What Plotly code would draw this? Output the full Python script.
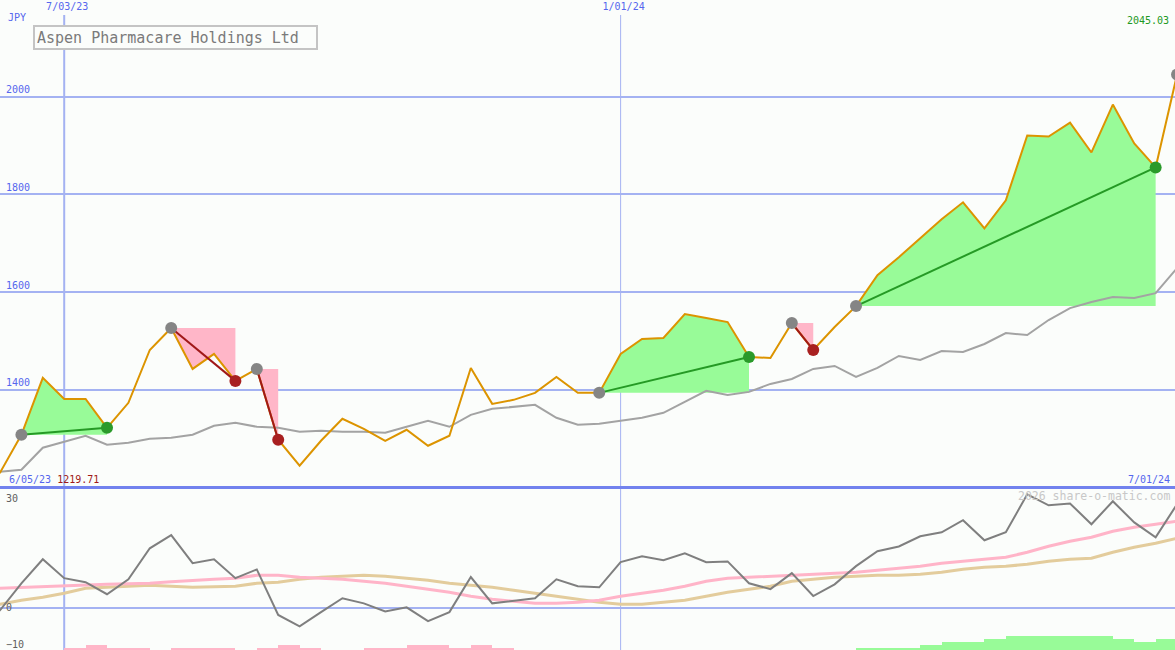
import plotly.graph_objects as go
from datetime import datetime

# ---------------- data ----------------
dates = ["2023-06-05", "2023-06-12", "2023-06-19", "2023-06-26", "2023-07-03", "2023-07-10",
         "2023-07-17", "2023-07-24", "2023-07-31", "2023-08-07", "2023-08-14", "2023-08-21",
         "2023-08-28", "2023-09-04", "2023-09-11", "2023-09-18", "2023-09-25", "2023-10-02",
         "2023-10-09", "2023-10-16", "2023-10-23", "2023-10-30", "2023-11-06", "2023-11-13",
         "2023-11-20", "2023-11-27", "2023-12-04", "2023-12-11", "2023-12-18", "2023-12-25",
         "2024-01-01", "2024-01-08", "2024-01-15", "2024-01-22", "2024-01-29", "2024-02-05",
         "2024-02-12", "2024-02-19", "2024-02-26", "2024-03-04", "2024-03-11", "2024-03-18",
         "2024-03-25", "2024-04-01", "2024-04-08", "2024-04-15", "2024-04-22", "2024-04-29",
         "2024-05-06", "2024-05-13", "2024-05-20", "2024-05-27", "2024-06-03", "2024-06-10",
         "2024-06-17", "2024-06-24", "2024-07-01"]

prices = [1219.71, 1230.6, 1308.2, 1424.5, 1381.6, 1381.6, 1322.4, 1373.5, 1481.6, 1526.5,
          1442.9, 1473.5, 1418.4, 1442.9, 1298.0, 1244.9, 1295.9, 1340.8, 1320.4, 1295.9,
          1318.4, 1285.7, 1306.1, 1444.9, 1371.4, 1379.6, 1393.9, 1426.5, 1393.9, 1393.9,
          1473.5, 1504.1, 1506.1, 1555.1, 1546.9, 1538.8, 1467.3, 1465.3, 1536.7, 1481.6,
          1528.6, 1571.4, 1634.7, 1671.4, 1710.2, 1749.0, 1783.7, 1730.6, 1787.8, 1920.4,
          1918.4, 1946.9, 1885.7, 1983.7, 1904.1, 1855.1, 2045.03]

moving_avg = [1228.0, 1232.7, 1236.7, 1281.6, 1293.9, 1306.1, 1287.8, 1291.8, 1300.0, 1302.0,
              1308.2, 1326.5, 1332.7, 1324.5, 1322.4, 1314.3, 1316.3, 1314.3, 1314.3, 1312.2,
              1324.5, 1336.7, 1324.5, 1349.0, 1361.2, 1365.3, 1369.4, 1342.9, 1328.6, 1330.6,
              1336.7, 1342.9, 1353.1, 1375.5, 1398.0, 1389.8, 1395.9, 1412.2, 1422.4, 1442.9,
              1449.0, 1426.5, 1444.9, 1469.4, 1461.2, 1479.6, 1477.6, 1493.9, 1516.3, 1512.2,
              1542.9, 1567.3, 1579.6, 1589.8, 1587.8, 1598.0, 1649.0]

momentum = [-4.0, -0.7, 6.7, 13.3, 8.1, 7.0, 3.7, 7.8, 16.3, 19.9, 12.2, 13.3, 8.1, 10.5,
            -2.0, -5.1, -1.2, 2.6, 1.2, -1.0, 0.1, -3.7, -1.2, 8.4, 1.2, 1.8, 2.6, 7.8, 5.9,
            5.6, 12.5, 14.1, 13.0, 14.9, 12.5, 12.7, 6.7, 5.1, 9.5, 3.2, 6.4, 11.4, 15.5, 16.8,
            19.6, 20.7, 24.0, 18.5, 20.7, 31.1, 28.1, 28.6, 22.9, 29.2, 23.4, 19.3, 28.4]

momentum_fast = [5.1, 5.34, 5.62, 5.89, 6.16, 6.30, 6.44, 6.58, 6.71, 7.12, 7.53, 7.81, 8.08,
                 8.90, 8.90, 8.36, 8.08, 7.81, 7.26, 6.71, 5.89, 5.07, 4.25, 3.15, 2.33, 1.78,
                 1.23, 1.23, 1.51, 2.05, 3.15, 3.97, 4.79, 5.89, 7.26, 8.08, 8.36, 8.63, 8.90,
                 9.18, 9.45, 9.73, 10.27, 10.82, 11.37, 12.19, 12.74, 13.29, 13.84, 15.21,
                 16.85, 18.22, 19.32, 20.96, 22.05, 22.88, 23.70]

momentum_slow = [0.5, 0.96, 2.05, 2.88, 3.97, 5.34, 5.62, 5.89, 6.16, 5.89, 5.62, 5.75, 5.89,
                 6.71, 6.99, 7.81, 8.36, 8.63, 8.90, 8.63, 8.08, 7.53, 6.71, 6.16, 5.62, 4.79,
                 3.97, 3.15, 2.33, 1.51, 0.96, 0.96, 1.51, 2.05, 3.15, 4.25, 5.07, 5.89, 7.26,
                 7.81, 8.36, 8.63, 8.90, 8.90, 9.18, 9.73, 10.55, 11.10, 11.37, 11.92, 12.74,
                 13.29, 13.56, 15.21, 16.58, 17.67, 19.04]

signal_level = [0, 0, 0, 0, -1, -2, -1, -1, 0, -1, -1, -1, 0, -1, -2, -1, 0, 0, -1, -1,
                -2, -2, -1, -2, -1, 0, 0, 0, 0, 0, 0, 0, 0, 0, 0, 0, 0, 0, 0, 0,
                0, 1, 1, 1, 2, 3, 3, 4, 5, 5, 5, 5, 5, 4, 3, 4, 0]

trade_entries = [2, 9, 13, 29, 38, 41]
trade_exits = [6, 12, 14, 36, 39, 55]
open_entries = [56]

grid_dates = ["2023-07-03", "2024-01-01"]
price_ticks = [1400, 1600, 1800, 2000]
momentum_ticks = [-10, 0, 30]
title_text = "Aspen Pharmacare Holdings Ltd"
currency = "JPY"
watermark = "2026 share-o-matic.com"

# ---------------- styles ----------------
BG = "#fbfdfb"
BLUE_TXT = "#5566ee"
GRID = "#a4b2f2"
SEP = "#7282ee"
FONT = "DejaVu Sans Mono"
GAIN_FILL = "#98fb98"
LOSS_FILL = "#ffb6c8"
GAIN_LINE = "#259a25"
LOSS_LINE = "#a01818"
GAIN_DOT = "#2a9a2a"
LOSS_DOT = "#a82020"
ENTRY_DOT = "#858585"


def lab(s):
    d = datetime.strptime(s, "%Y-%m-%d")
    return f"{d.month}/{d.day:02d}/{d.year % 100:02d}"


W, H = 1175, 650
split = 487.5  # px

fig = go.Figure()

# trade fills
for e, x in zip(trade_entries, trade_exits):
    base = prices[e]
    gain = prices[x] > base
    xs = dates[e:x + 1] + [dates[x], dates[e]]
    ys = prices[e:x + 1] + [base, base]
    fig.add_trace(go.Scatter(x=xs, y=ys, fill="toself", mode="none",
                             fillcolor=GAIN_FILL if gain else LOSS_FILL,
                             hoverinfo="skip", showlegend=False, xaxis="x", yaxis="y"))

# moving average
fig.add_trace(go.Scatter(x=dates, y=moving_avg, mode="lines",
                         line=dict(color="#a3a3a3", width=2), showlegend=False,
                         xaxis="x", yaxis="y"))
# price
fig.add_trace(go.Scatter(x=dates, y=prices, mode="lines",
                         line=dict(color="#dc9400", width=2), showlegend=False,
                         xaxis="x", yaxis="y"))

# entry-exit lines
for e, x in zip(trade_entries, trade_exits):
    gain = prices[x] > prices[e]
    fig.add_trace(go.Scatter(x=[dates[e], dates[x]], y=[prices[e], prices[x]], mode="lines",
                             line=dict(color=GAIN_LINE if gain else LOSS_LINE, width=2),
                             showlegend=False, xaxis="x", yaxis="y"))

# dots
ent = trade_entries + open_entries
fig.add_trace(go.Scatter(x=[dates[i] for i in ent], y=[prices[i] for i in ent], mode="markers",
                         marker=dict(color=ENTRY_DOT, size=12, line=dict(width=0)),
                         showlegend=False, xaxis="x", yaxis="y"))
fig.add_trace(go.Scatter(x=[dates[i] for i in trade_exits], y=[prices[i] for i in trade_exits],
                         mode="markers",
                         marker=dict(color=[GAIN_DOT if prices[x] > prices[e] else LOSS_DOT
                                            for e, x in zip(trade_entries, trade_exits)],
                                     size=12, line=dict(width=0)),
                         showlegend=False, xaxis="x", yaxis="y"))

# bottom panel bars
week_ms = 7 * 24 * 3600 * 1000
neg = [(d, -v) for d, v in zip(dates, signal_level) if v < 0]
pos = [(d, v) for d, v in zip(dates, signal_level) if v > 0]
for pts, col in ((neg, LOSS_FILL), (pos, GAIN_FILL)):
    fig.add_trace(go.Bar(x=[p[0] for p in pts], y=[p[1] for p in pts], width=week_ms, offset=0,
                         marker=dict(color=col, line=dict(width=0)), showlegend=False,
                         xaxis="x2", yaxis="y3"))

# momentum lines
fig.add_trace(go.Scatter(x=dates, y=momentum_slow, mode="lines",
                         line=dict(color="#e3cc9c", width=3), showlegend=False,
                         xaxis="x2", yaxis="y2"))
fig.add_trace(go.Scatter(x=dates, y=momentum_fast, mode="lines",
                         line=dict(color="#ffb4c8", width=3), showlegend=False,
                         xaxis="x2", yaxis="y2"))
fig.add_trace(go.Scatter(x=dates, y=momentum, mode="lines",
                         line=dict(color="#7f7f7f", width=2), showlegend=False,
                         xaxis="x2", yaxis="y2"))

x_range = ["2023-06-12", "2024-06-30 08:00"]
main_dom = [(H - split) / H, 1]
bot_dom = [0, (H - split - 1) / H]

fig.update_layout(
    width=W, height=H, margin=dict(l=0, r=0, t=0, b=0),
    paper_bgcolor=BG, plot_bgcolor=BG, showlegend=False, bargap=0,
    font=dict(family=FONT),
    xaxis=dict(domain=[0, 1], range=x_range, anchor="y", side="top",
               tickvals=grid_dates, ticktext=[lab(d) for d in grid_dates],
               ticklabelposition="inside", ticks="", showgrid=False, zeroline=False,
               showline=False, ticklabelshift=3,
               tickfont=dict(family=FONT, size=10, color=BLUE_TXT)),
    yaxis=dict(domain=main_dom, range=[1200.3, 2197.6], tickvals=price_ticks,
               ticklabelposition="inside top", ticks="", showgrid=True, gridcolor=GRID,
               gridwidth=2, zeroline=False, showline=False, ticklabelstandoff=3,
               tickfont=dict(family=FONT, size=10, color=BLUE_TXT)),
    xaxis2=dict(domain=[0, 1], matches="x", anchor="y2", side="top", showticklabels=False,
                ticks="", showgrid=False, zeroline=False, showline=True, linecolor=SEP,
                linewidth=3),
    yaxis2=dict(domain=bot_dom, range=[-11.6, 32.7], tickvals=momentum_ticks,
                ticklabelposition="inside", ticks="", showgrid=False, zeroline=True,
                zerolinecolor=GRID, zerolinewidth=2, showline=False, ticklabelstandoff=3,
                tickfont=dict(family=FONT, size=10, color="#606060"), anchor="x2"),
    yaxis3=dict(domain=bot_dom, range=[0, 54], overlaying="y2", visible=False, anchor="x2"),
)

# vertical grid lines
for d, w in zip(grid_dates, [2, 1]):
    fig.add_shape(type="line", xref="x", yref="paper", x0=d, x1=d, y0=0, y1=1 - 15 / H,
                  line=dict(color=GRID, width=w), layer="below")

# annotations
fig.add_annotation(xref="paper", yref="paper", x=6 / W, y=1 - 18 / H, xanchor="left",
                   yanchor="middle", text=currency, showarrow=False,
                   font=dict(family=FONT, size=10, color=BLUE_TXT))
fig.add_annotation(xref="paper", yref="paper", x=1 - 4 / W, y=1 - 21 / H, xanchor="right",
                   yanchor="middle", text=f"{prices[-1]:.2f}", showarrow=False,
                   font=dict(family=FONT, size=10, color="#229922"))
fig.add_annotation(xref="paper", yref="paper", x=33 / W, y=1 - 25 / H, xanchor="left",
                   yanchor="top", text=title_text, showarrow=False, align="left",
                   width=277, height=17, borderpad=2, bordercolor="#c4c4c4", borderwidth=2,
                   bgcolor=BG, font=dict(family=FONT, size=15, color="#7a7a7a"))
fig.add_annotation(xref="paper", yref="paper", x=7 / W, y=1 - 479 / H, xanchor="left",
                   yanchor="middle", showarrow=False,
                   text=f"<span style='color:{BLUE_TXT}'>{lab(dates[0])}</span> "
                        f"<span style='color:#a01818'>{prices[0]:.2f}</span>",
                   font=dict(family=FONT, size=10))
fig.add_annotation(xref="paper", yref="paper", x=1 - 3 / W, y=1 - 479 / H, xanchor="right",
                   yanchor="middle", text=lab(dates[-1]), showarrow=False,
                   font=dict(family=FONT, size=10, color=BLUE_TXT))
fig.add_annotation(xref="paper", yref="paper", x=1 - 3 / W, y=1 - 496 / H, xanchor="right",
                   yanchor="middle", text=watermark, showarrow=False,
                   font=dict(family=FONT, size=11.5, color="#c8c8c8"))

fig.write_html("out.html", config={"displayModeBar": False},
               post_script="document.body.style.margin='0';"
                           "document.body.style.overflow='hidden';")
